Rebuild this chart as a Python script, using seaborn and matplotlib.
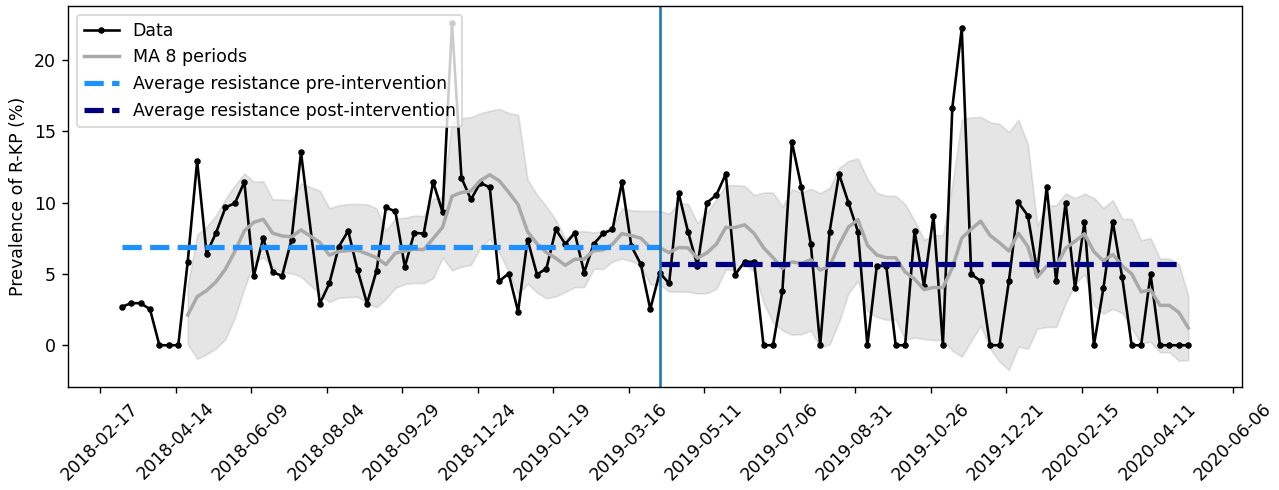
import matplotlib
matplotlib.use("Agg")
import matplotlib.pyplot as plt
import matplotlib.dates as mdates
import seaborn as sn
import numpy as np
import pandas as pd

# weekly observations (one week has no data)
weeks = pd.date_range("2018-03-05", "2020-05-04", freq="7D")
weeks = weeks.drop(pd.Timestamp("2018-07-23"))

prevalence = [
    2.69, 2.95, 2.95, 2.53, 0, 0, 0, 5.85, 12.91, 6.43, 7.88, 9.66, 9.96, 11.44, 4.84, 7.53, 5.12, 4.87, 7.41, 13.52,
    2.92, 4.33, 6.90, 8.02, 5.26, 2.92, 5.22, 9.66, 9.38, 5.50, 7.88, 7.83, 11.44, 9.33, 22.57, 11.74, 10.22, 11.39, 11.06, 4.49,
    5.03, 2.36, 7.41, 4.96, 5.38, 8.12, 7.09, 7.88, 5.10, 7.09, 7.84, 8.12, 11.42, 6.95, 5.68, 2.53,
    5.08, 4.33, 10.69, 7.96, 5.57, 9.99, 10.53, 12.0, 4.96, 5.85, 5.85, 0, 0, 3.81, 14.27, 11.11, 7.13, 0, 7.97, 12.0,
    9.99, 7.97, 0, 5.57, 5.57, 0, 0, 8.0, 4.16, 9.08, 0, 16.65, 22.22, 4.98, 4.51, 0, 0, 4.51, 10.01, 9.08,
    5.15, 11.11, 4.51, 10.0, 3.98, 8.65, 0, 3.98, 8.65, 4.75, 0, 0, 4.98, 0, 0, 0, 0,
]

intervention = pd.Timestamp("2019-04-08")
post_end = pd.Timestamp("2020-04-27")
avg_pre = 6.9
avg_post = 5.73
window = 8

tick_dates = pd.date_range("2018-02-17", "2020-06-06", freq="56D")

df = pd.DataFrame({"Date": weeks, "Prevalence": prevalence})
df["MA"] = df["Prevalence"].rolling(window).mean()
df["SD"] = df["Prevalence"].rolling(window).std()

fig, ax = plt.subplots(figsize=(1279 / 125, 490 / 125), dpi=125)
fig.subplots_adjust(left=0.0534, right=0.9708, bottom=0.2096, top=0.9878)

sn.lineplot(data=df, x="Date", y="Prevalence", ax=ax, color="black", marker=".",
            markersize=6, markeredgecolor="black", linewidth=1.5, label="Data")
sn.lineplot(data=df, x="Date", y="MA", ax=ax, color="darkgrey", linewidth=2,
            label="MA {0} periods".format(window))
ax.fill_between(df["Date"], df["MA"] - df["SD"], df["MA"] + df["SD"], color="grey", alpha=0.2)

ax.plot([df["Date"].iloc[0], intervention], [avg_pre, avg_pre], color="dodgerblue",
        linestyle="--", linewidth=3, label="Average resistance pre-intervention")
ax.plot([intervention, post_end], [avg_post, avg_post], color="navy",
        linestyle="--", linewidth=3, label="Average resistance post-intervention")
ax.axvline(intervention, color="#1f77b4", linewidth=1.5)

ax.set_xticks(tick_dates)
ax.xaxis.set_major_formatter(mdates.DateFormatter("%Y-%m-%d"))
ax.tick_params(axis="x", labelrotation=45)
ax.set_xlabel("")
ax.set_ylabel("Prevalence of R-KP (%)")
ax.set_yticks([0, 5, 10, 15, 20])

ax.legend(loc="upper left")

fig.savefig("out.png", dpi=125)
